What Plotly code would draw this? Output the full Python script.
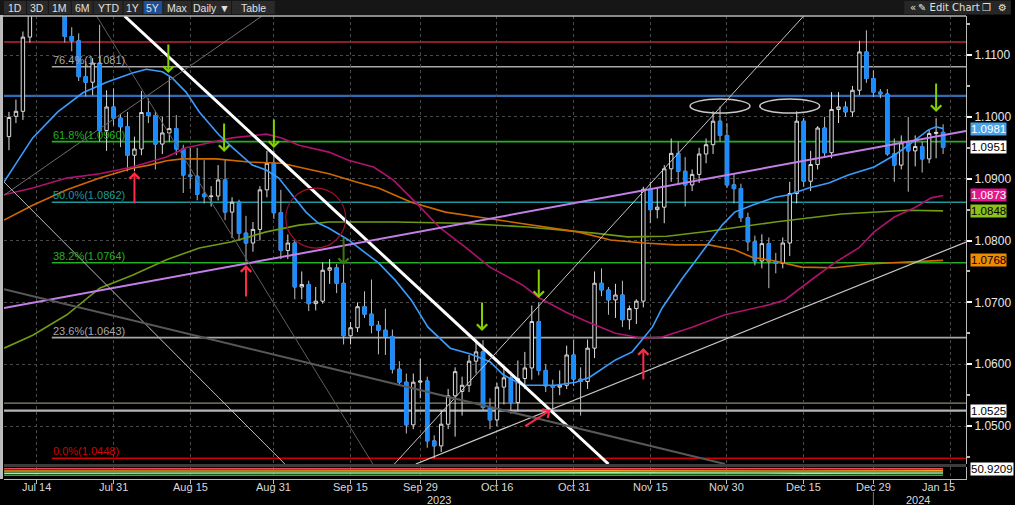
import plotly.graph_objects as go
import pandas as pd

# ---------------- data ----------------
dates = pd.bdate_range("2023-07-10", "2024-01-12")   # weekday candles
idx = list(range(-4, -4 + len(dates)))                # 0 = Jul 14 2023

open_ = [1.0968, 1.1001, 1.1009, 1.1129,
         1.1228, 1.1228, 1.1236, 1.1228, 1.1200, 1.1130, 1.1123, 1.1065, 1.1056, 1.1087, 1.0978,
         1.1016, 1.0998, 1.0984, 1.0938, 1.0948, 1.1007, 1.1002, 1.0956, 1.0974, 1.0981,
         1.0948, 1.0906, 1.0904, 1.0875, 1.0871, 1.0872, 1.0898, 1.0846, 1.0862, 1.0812,
         1.0796, 1.0818, 1.0882, 1.0925, 1.0845, 1.0784, 1.0796, 1.0725, 1.0729, 1.0698,
         1.0702, 1.0752, 1.0756, 1.0731, 1.0646, 1.0659, 1.0693, 1.0681, 1.0663, 1.0655,
         1.0645, 1.0592, 1.0571, 1.0502, 1.0571, 1.0573, 1.0476, 1.0468, 1.0503, 1.0549,
         1.0556, 1.0566, 1.0605, 1.0620, 1.0530, 1.0510, 1.0563, 1.0578, 1.0538, 1.0577,
         1.0594, 1.0669, 1.0590, 1.0565, 1.0563, 1.0566, 1.0615, 1.0576, 1.0572, 1.0626,
         1.0731, 1.0720, 1.0704, 1.0712, 1.0672, 1.0690, 1.0702, 1.0883, 1.0850, 1.0854,
         1.0916, 1.0941, 1.0912, 1.0890, 1.0907, 1.0940, 1.0955, 1.0993, 1.0970, 1.0890,
         1.0884, 1.0837, 1.0798, 1.0767, 1.0795, 1.0766, 1.0763, 1.0796, 1.0876, 1.0993,
         1.0896, 1.0923, 1.0982, 1.0942, 1.1012, 1.1016, 1.1008, 1.1043, 1.1105, 1.1062,
         1.1040, 1.1037, 1.0940, 1.0922, 1.0958, 1.0945, 1.0952, 1.0932, 1.0973, 1.0975]
high = [1.1008, 1.1028, 1.1138, 1.1240,
        1.1245, 1.1250, 1.1276, 1.1245, 1.1222, 1.1145, 1.1135, 1.1090, 1.1095, 1.1149, 1.1043,
        1.1046, 1.1005, 1.1008, 1.0968, 1.1042, 1.1030, 1.1010, 1.1000, 1.1065, 1.1003,
        1.0955, 1.0950, 1.0950, 1.0930, 1.0888, 1.0922, 1.0932, 1.0870, 1.0866, 1.0840,
        1.0830, 1.0888, 1.0945, 1.0945, 1.0882, 1.0810, 1.0800, 1.0750, 1.0735, 1.0725,
        1.0765, 1.0770, 1.0762, 1.0768, 1.0668, 1.0700, 1.0718, 1.0737, 1.0670, 1.0690,
        1.0656, 1.0605, 1.0585, 1.0585, 1.0609, 1.0580, 1.0485, 1.0525, 1.0560, 1.0595,
        1.0580, 1.0615, 1.0640, 1.0639, 1.0545, 1.0570, 1.0595, 1.0588, 1.0606, 1.0620,
        1.0695, 1.0700, 1.0600, 1.0575, 1.0590, 1.0630, 1.0640, 1.0595, 1.0640, 1.0750,
        1.0755, 1.0725, 1.0730, 1.0735, 1.0695, 1.0705, 1.0887, 1.0895, 1.0885, 1.0922,
        1.0965, 1.0960, 1.0935, 1.0915, 1.0950, 1.0965, 1.1009, 1.1017, 1.0990, 1.0907,
        1.0892, 1.0845, 1.0808, 1.0810, 1.0805, 1.0780, 1.0805, 1.0895, 1.1009, 1.0998,
        1.0945, 1.0985, 1.1000, 1.1040, 1.1040, 1.1025, 1.1050, 1.1123, 1.1140, 1.1075,
        1.1045, 1.1045, 1.0965, 1.0970, 1.1000, 1.0970, 1.0960, 1.0980, 1.0998, 1.0988]
low = [1.0946, 1.0990, 1.0995, 1.1120,
       1.1185, 1.1208, 1.1210, 1.1180, 1.1120, 1.1106, 1.1058, 1.1033, 1.1035, 1.0960, 1.0945,
       1.0986, 1.0951, 1.0912, 1.0912, 1.0938, 1.0990, 1.0915, 1.0940, 1.0960, 1.0938,
       1.0877, 1.0883, 1.0865, 1.0860, 1.0855, 1.0865, 1.0833, 1.0804, 1.0800, 1.0766,
       1.0782, 1.0800, 1.0870, 1.0835, 1.0770, 1.0770, 1.0705, 1.0705, 1.0686, 1.0687,
       1.0698, 1.0730, 1.0715, 1.0632, 1.0632, 1.0652, 1.0675, 1.0650, 1.0616, 1.0615,
       1.0585, 1.0565, 1.0488, 1.0495, 1.0545, 1.0465, 1.0448, 1.0458, 1.0495, 1.0483,
       1.0517, 1.0555, 1.0585, 1.0525, 1.0495, 1.0500, 1.0535, 1.0520, 1.0525, 1.0560,
       1.0575, 1.0582, 1.0555, 1.0523, 1.0550, 1.0560, 1.0565, 1.0517, 1.0560, 1.0610,
       1.0710, 1.0680, 1.0675, 1.0660, 1.0656, 1.0665, 1.0692, 1.0828, 1.0836, 1.0828,
       1.0895, 1.0890, 1.0855, 1.0880, 1.0893, 1.0925, 1.0940, 1.0960, 1.0885, 1.0860,
       1.0830, 1.0783, 1.0760, 1.0755, 1.0723, 1.0747, 1.0755, 1.0775, 1.0860, 1.0887,
       1.0880, 1.0915, 1.0935, 1.0933, 1.0990, 1.1000, 1.1000, 1.1035, 1.1055, 1.1032,
       1.1030, 1.0937, 1.0895, 1.0915, 1.0879, 1.0920, 1.0910, 1.0925, 1.0933, 1.0940]
close = [1.0999, 1.1009, 1.1129, 1.1228,
         1.1228, 1.1236, 1.1228, 1.1200, 1.1130, 1.1123, 1.1065, 1.1056, 1.1087, 1.0978, 1.1016,
         1.0998, 1.0984, 1.0938, 1.0948, 1.1007, 1.1002, 1.0956, 1.0974, 1.0981, 1.0948,
         1.0906, 1.0904, 1.0875, 1.0871, 1.0872, 1.0898, 1.0846, 1.0862, 1.0812, 1.0796,
         1.0818, 1.0882, 1.0925, 1.0845, 1.0784, 1.0796, 1.0725, 1.0729, 1.0698, 1.0702,
         1.0752, 1.0756, 1.0731, 1.0646, 1.0659, 1.0693, 1.0681, 1.0663, 1.0655, 1.0645,
         1.0592, 1.0571, 1.0502, 1.0571, 1.0573, 1.0476, 1.0468, 1.0503, 1.0549, 1.0588,
         1.0566, 1.0605, 1.0620, 1.0530, 1.0510, 1.0563, 1.0578, 1.0538, 1.0577, 1.0594,
         1.0669, 1.0590, 1.0565, 1.0563, 1.0566, 1.0615, 1.0576, 1.0572, 1.0626, 1.0731,
         1.0720, 1.0704, 1.0712, 1.0672, 1.0690, 1.0702, 1.0883, 1.0850, 1.0854, 1.0916,
         1.0941, 1.0912, 1.0890, 1.0907, 1.0940, 1.0955, 1.0993, 1.0970, 1.0890, 1.0884,
         1.0837, 1.0798, 1.0767, 1.0795, 1.0766, 1.0763, 1.0796, 1.0876, 1.0993, 1.0896,
         1.0923, 1.0982, 1.0942, 1.1012, 1.1016, 1.1008, 1.1043, 1.1105, 1.1062, 1.1040,
         1.1037, 1.0940, 1.0922, 1.0958, 1.0945, 1.0952, 1.0932, 1.0973, 1.0975, 1.0951]

# moving averages (knots, x = candle index)
ma20_x = [-4.7, -0.6, 3.0, 6.6, 10, 13.7, 15.7, 18, 19.4, 21.4, 23.3, 26.1, 28, 30.9, 32.9,
          34.7, 36.6, 38.6, 40.4, 41.9, 44.7, 49, 51.4, 53.7, 56.1, 59.3, 62.1, 65, 66.9, 69.7,
          74.4, 77.3, 79.3, 83, 85.4, 88.3, 89.7, 92.6, 95.4, 98.3, 100.1, 102.6, 105.9, 107.9,
          110.7, 113.6, 116.4, 120.1, 123, 125, 127.9, 129, 130]
ma20_y = [1.0895, 1.0966, 1.1008, 1.1039, 1.1056, 1.1071, 1.1077, 1.1073, 1.1063, 1.1040,
          1.1008, 1.0971, 1.0951, 1.0922, 1.0914, 1.0901, 1.0874, 1.0846, 1.0828, 1.0820,
          1.0801, 1.0764, 1.0736, 1.0704, 1.0660, 1.0626, 1.0617, 1.0604, 1.0583, 1.0566,
          1.0566, 1.0571, 1.0579, 1.0607, 1.0620, 1.0660, 1.0691, 1.0739, 1.0781, 1.0825,
          1.0846, 1.0857, 1.0870, 1.0874, 1.0885, 1.0893, 1.0906, 1.0919, 1.0938, 1.0954,
          1.0979, 1.0984, 1.0981]
ma50_x = [-4.7, -0.6, 4.3, 9, 13.7, 18.6, 21.4, 25.7, 28, 32.9, 35.1, 37.6, 41.9, 44.7, 48.3,
          51.1, 54.4, 57.9, 61.6, 65, 69.7, 72.1, 75.9, 79.3, 83, 86.9, 89.7, 94, 98.7, 105,
          107.3, 110.7, 114.4, 117.9, 120.1, 123, 125.9, 128.3, 130]
ma50_y = [1.0874, 1.0885, 1.0901, 1.0908, 1.0919, 1.0935, 1.0950, 1.0961, 1.0966, 1.0972,
          1.0966, 1.0954, 1.0943, 1.0930, 1.0919, 1.0898, 1.0861, 1.0820, 1.0788, 1.0757,
          1.0728, 1.0707, 1.0684, 1.0667, 1.0650, 1.0642, 1.0644, 1.0660, 1.0680, 1.0696,
          1.0704, 1.0733, 1.0764, 1.0788, 1.0814, 1.0838, 1.0853, 1.0869, 1.0873]
ma100_x = [-4.7, -0.6, 4.3, 9, 13.7, 16.1, 18.6, 20.9, 25.7, 30.4, 35.1, 37.6, 41.9, 45.7, 49,
           53.7, 58.6, 63.3, 68, 72.9, 77.6, 82.3, 87.1, 91.6, 96.4, 100.1, 102.6, 105.9, 109.7,
           114.4, 119.3, 124, 130]
ma100_y = [1.0833, 1.0857, 1.0882, 1.0901, 1.0917, 1.0922, 1.0929, 1.0932, 1.0932, 1.0927,
           1.0925, 1.0919, 1.0908, 1.0895, 1.0885, 1.0862, 1.0846, 1.0838, 1.0830, 1.0822,
           1.0814, 1.0801, 1.0796, 1.0793, 1.0793, 1.0785, 1.0773, 1.0767, 1.0757, 1.0756,
           1.0762, 1.0765, 1.0768]
ma200_x = [-4.7, -0.6, 4.3, 9, 13.7, 18.6, 23.3, 28, 32.9, 37.6, 41.9, 51.4, 60.9, 70.4, 80,
           84.7, 90.4, 96.4, 105.9, 115.4, 125, 130]
ma200_y = [1.0626, 1.0647, 1.0680, 1.0723, 1.0744, 1.0769, 1.0788, 1.0798, 1.0814, 1.0825,
           1.0830, 1.0830, 1.0828, 1.0822, 1.0812, 1.0806, 1.0807, 1.0815, 1.0830, 1.0843,
           1.0849, 1.0848]

# Fibonacci retracement levels
fib_pct = ["76.4%", "61.8%", "50.0%", "38.2%", "23.6%", "0.0%"]
fib_val = [1.1081, 1.0960, 1.0862, 1.0764, 1.0643, 1.0448]
# other horizontal levels
hline_val = [1.1121, 1.1034, 1.0537, 1.0525]

# x-axis labels
tick_idx = [0, 11, 22, 34, 45, 55, 66, 77, 88, 99, 110, 120, 131]
tick_txt = ["Jul 14", "Jul 31", "Aug 15", "Aug 31", "Sep 15", "Sep 29", "Oct 16",
            "Oct 31", "Nov 15", "Nov 30", "Dec 15", "Dec 29", "Jan 15"]

# lower study panel (illegible, approximate)
ind_x = [-4.7, 20, 50, 80, 110, 130]
ind_a = [10.2, 10.0, 10.3, 10.1, 10.2, 10.1]
ind_b = [8.0, 8.2, 7.9, 8.1, 8.0, 8.1]
ind_c = [5.8, 6.0, 5.7, 6.1, 5.9, 6.0]
ind_d = [3.8, 3.9, 3.7, 3.9, 3.8, 3.8]
ind_last = 50.9209

# ---------------- helpers (layout geometry) ----------------
L, R, T, B = 4, 45, 16, 26
W, H = 1015, 505
PW, PH = W - L - R, H - T - B
def px(xp):  # pixel x -> paper
    return (xp - L) / PW
def py(yp):  # pixel y -> paper
    return (H - B - yp) / PH

XR = [-4.714, 133.286]
YR = [1.04387, 1.11631]
FONT = "Liberation Sans, Arial, sans-serif"

fig = go.Figure()

# candles: wicks + hollow/filled bodies
fig.add_trace(go.Candlestick(
    x=idx, open=open_, high=high, low=low, close=close,
    increasing=dict(line=dict(color="#dcdcdc", width=1), fillcolor="#000000"),
    decreasing=dict(line=dict(color="#bdbdbd", width=1), fillcolor="#1a8cff"),
    whiskerwidth=0, showlegend=False, hoverinfo="skip"))
dec = [c < o for o, c in zip(open_, close)]
fig.add_trace(go.Candlestick(
    x=idx,
    open=[o if d else None for o, d in zip(open_, dec)],
    high=[o if d else None for o, d in zip(open_, dec)],
    low=[c if d else None for c, d in zip(close, dec)],
    close=[c if d else None for c, d in zip(close, dec)],
    increasing=dict(line=dict(color="#1a8cff", width=1), fillcolor="#1a8cff"),
    decreasing=dict(line=dict(color="#1a8cff", width=1), fillcolor="#1a8cff"),
    whiskerwidth=0, showlegend=False, hoverinfo="skip"))

for xs, ys, col in [(ma200_x, ma200_y, "#6f9a12"), (ma100_x, ma100_y, "#d06a00"),
                    (ma50_x, ma50_y, "#b0126e"), (ma20_x, ma20_y, "#3a9cff")]:
    fig.add_trace(go.Scatter(x=xs, y=ys, mode="lines", line=dict(color=col, width=1.6),
                             showlegend=False, hoverinfo="skip"))

for ys, col in [(ind_a, "#e8485a"), (ind_b, "#f0a020"), (ind_c, "#a8f0a0"), (ind_d, "#22b822")]:
    fig.add_trace(go.Scatter(x=ind_x, y=ys, yaxis="y2", mode="lines",
                             line=dict(color=col, width=1.6), showlegend=False, hoverinfo="skip"))

shapes = []
ann = []

# horizontal levels
hl_style = [("#8e1a2c", 2), ("#2d6db3", 2.2), ("#8f8a66", 1.2), ("#b4b4b4", 2.2)]
for v, (c, w) in zip(hline_val, hl_style):
    shapes.append(dict(type="line", xref="x", yref="y", x0=XR[0], x1=XR[1], y0=v, y1=v,
                       line=dict(color=c, width=w), layer="below"))
fib_col = ["#a8a8a8", "#22b022", "#1a9a9a", "#22b022", "#a8a8a8", "#d00000"]
fib_start = 2.14
for p, v, c in zip(fib_pct, fib_val, fib_col):
    shapes.append(dict(type="line", xref="x", yref="y", x0=fib_start, x1=XR[1], y0=v, y1=v,
                       line=dict(color=c, width=1.6), layer="below"))
    ann.append(dict(xref="x", yref="y", x=fib_start, y=v, text=f"{p}({v:.4f})",
                    xanchor="left", yanchor="bottom", showarrow=False, borderpad=0,
                    font=dict(family=FONT, size=11, color=c)))

# trend lines / drawings
drawings = [
    ((12.57, 1.11631), (82.0, 1.04387), "#ffffff", 3),
    ((-4.714, 1.06908), (133.286, 1.09771), "#c47ee8", 2),
    ((51.29, 1.04387), (110.0, 1.11631), "#c4c4c4", 1),
    ((54.36, 1.04387), (133.286, 1.07976), "#c8c8c8", 1.2),
    ((-4.714, 1.08733), (32.29, 1.11631), "#6e6e6e", 1),
    ((-4.714, 1.08946), (35.57, 1.04387), "#bdbdbd", 1),
    ((8.57, 1.11631), (48.2, 1.04387), "#5e5e5e", 1),
    ((-4.714, 1.07215), (98.71, 1.04387), "#585858", 2),
]
for (x0, y0), (x1, y1), c, w in drawings:
    shapes.append(dict(type="line", xref="x", yref="y", x0=x0, y0=y0, x1=x1, y1=y1,
                       line=dict(color=c, width=w)))
# ellipses and circle
for x0, x1 in [(93.7, 102.3), (103.7, 112.3)]:
    shapes.append(dict(type="circle", xref="x", yref="y", x0=x0, x1=x1, y0=1.10062, y1=1.10288,
                       line=dict(color="#c8c8c8", width=1.5)))
shapes.append(dict(type="circle", xref="x", yref="y", x0=35.7, x1=44.3, y0=1.07879, y1=1.08849,
                   line=dict(color="#a0102c", width=1.2)))

# arrows (open chevron heads)
def arrow(x, y, col, axp, ayp):
    ann.append(dict(xref="x", yref="y", x=x, y=y, ax=axp, ay=ayp, showarrow=True, text="",
                    arrowcolor=col, arrowwidth=2, arrowhead=4, arrowsize=1.0))
for x, y in [(18.86, 1.10709), (26.86, 1.09431), (34.0, 1.09496), (63.86, 1.06536),
             (72.0, 1.07070), (129.0, 1.10078)]:
    arrow(x, y, "#86d000", 0, -30)
arrow(44.0, 1.07604, "#3f7410", 0, -29)
for x, y in [(14.0, 1.09108), (30.0, 1.07604), (87.0, 1.06261)]:
    arrow(x, y, "#ff2a48", 0, 33)
arrow(73.71, 1.05259, "#ff2a48", -27, 17)

# panel separator, frame bits
shapes += [
    dict(type="rect", xref="paper", yref="paper", x0=0, x1=1, y0=py(467), y1=py(464),
         fillcolor="#3c3c3c", line=dict(width=0)),
    dict(type="line", xref="paper", yref="paper", x0=px(0), x1=1, y0=py(16), y1=py(16),
         line=dict(color="#b8b8b8", width=1.5)),
    dict(type="rect", xref="paper", yref="paper", x0=px(0), x1=px(3), y0=py(479), y1=py(15),
         fillcolor="#bdbdbd", line=dict(width=0)),
    dict(type="line", xref="paper", yref="paper", x0=px(877), x1=px(877), y0=py(492), y1=py(505),
         line=dict(color="#777777", width=1)),
]
# toolbar
shapes.append(dict(type="rect", xref="paper", yref="paper", x0=px(0), x1=px(W), y0=py(15), y1=py(0),
                   fillcolor="#161616", line=dict(width=0), layer="above"))
buttons = [("1D", 4, 26), ("3D", 27, 48), ("1M", 49, 71), ("6M", 72, 93), ("YTD", 94, 123),
           ("1Y", 124, 143), ("5Y", 144, 163), ("Max", 164, 192), ("Daily \u25bc", 193, 232),
           ("Table", 233, 276)]
for txt, a, b in buttons:
    shapes.append(dict(type="rect", xref="paper", yref="paper", x0=px(a), x1=px(b),
                       y0=py(14), y1=py(1), fillcolor="#1d4f94" if txt == "5Y" else "#2a2a2a",
                       line=dict(width=0), layer="above"))
    ann.append(dict(xref="paper", yref="paper", x=px((a + b) / 2), y=py(7.5), text=txt,
                    showarrow=False, xanchor="center", yanchor="middle",
                    font=dict(family=FONT, size=10.5, color="#e0e0e0")))
shapes.append(dict(type="rect", xref="paper", yref="paper", x0=px(908), x1=px(W), y0=py(14), y1=py(1),
                   fillcolor="#262626", line=dict(width=0), layer="above"))
for txt, xc in [("\u00ab", 917), ("\u270e Edit Chart", 953), ("\u2750", 991), ("\u2699", 1007)]:
    ann.append(dict(xref="paper", yref="paper", x=px(xc), y=py(7.5), text=txt, showarrow=False,
                    xanchor="center", yanchor="middle",
                    font=dict(family="DejaVu Sans, " + FONT, size=10, color="#e0e0e0")))

# x labels
for i, t in zip(tick_idx, tick_txt):
    ann.append(dict(xref="x", yref="paper", x=i if i < 130 else 129.3, y=py(487), text=t,
                    showarrow=False, xanchor="center", yanchor="middle",
                    font=dict(family=FONT, size=11, color="#d8d8d8")))
for i, t in [(57.7, "2023"), (126.4, "2024")]:
    ann.append(dict(xref="x", yref="paper", x=i, y=py(500), text=t, showarrow=False,
                    xanchor="center", yanchor="middle",
                    font=dict(family=FONT, size=11, color="#d8d8d8")))

# right-hand value tags
tags = [(ma20_y[-1], "#4aa3e8", "#ffffff", "y"), (close[-1], "#ffffff", "#000000", "y"),
        (ma50_y[-1], "#e0188c", "#ffffff", "y"), (ma200_y[-1], "#8cc21a", "#000000", "y"),
        (ma100_y[-1], "#f08a00", "#000000", "y"), (hline_val[3], "#ffffff", "#000000", "y")]
for v, bg, fc, yr in tags:
    ann.append(dict(xref="paper", yref=yr, x=px(974), y=v, text=f"{v:.4f}", showarrow=False,
                    xanchor="left", yanchor="middle", bgcolor=bg, borderpad=0,
                    font=dict(family=FONT, size=11.5, color=fc)))
ann.append(dict(xref="paper", yref="y2", x=px(974), y=10.0, text=f"{ind_last:.4f}", showarrow=False,
                xanchor="left", yanchor="middle", bgcolor="#ffffff", borderpad=0,
                font=dict(family=FONT, size=11.5, color="#000000")))

fig.update_layout(
    width=W, height=H, margin=dict(l=L, r=R, t=T, b=B),
    paper_bgcolor="#000000", plot_bgcolor="#000000",
    boxmode="overlay", showlegend=False, hovermode=False,
    font=dict(family=FONT, size=11, color="#d8d8d8"),
    xaxis=dict(range=XR, anchor="y2", rangeslider=dict(visible=False),
               tickvals=tick_idx, ticktext=tick_txt, showticklabels=False,
               ticks="outside", ticklen=4, tickcolor="#bbbbbb",
               showgrid=True, gridcolor="#4a4a4a", griddash="dot", gridwidth=1,
               showline=True, linecolor="#bbbbbb", linewidth=1, zeroline=False),
    yaxis=dict(range=YR, domain=[py(464), 1], side="right", anchor="x",
               tick0=1.05, dtick=0.01, tickformat=".4f",
               ticks="outside", ticklen=5, tickcolor="#ffffff", tickwidth=2,
               minor=dict(dtick=0.005, ticks="outside", ticklen=3, tickcolor="#bbbbbb"),
               tickfont=dict(family=FONT, size=12, color="#e8e8e8"),
               showgrid=True, gridcolor="#4a4a4a", griddash="dot",
               showline=True, linecolor="#bbbbbb", zeroline=False),
    yaxis2=dict(range=[0, 12], domain=[0, py(467)], side="right", anchor="x",
                showticklabels=False, showgrid=False, zeroline=False,
                showline=True, linecolor="#bbbbbb"),
    shapes=shapes, annotations=ann,
)

fig.write_html("out.html", config={"displayModeBar": False},
               post_script="document.body.style.margin='0';document.body.style.background='#000';")
